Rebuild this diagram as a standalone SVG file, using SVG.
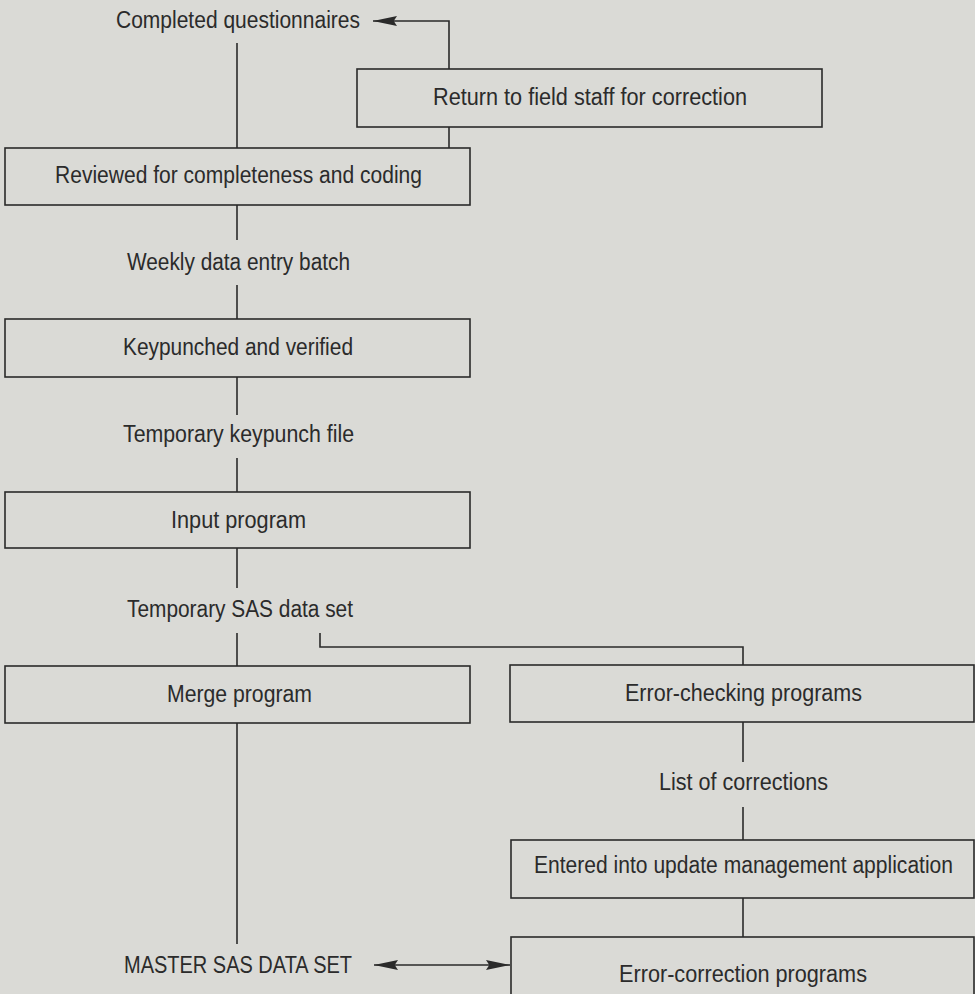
<svg xmlns="http://www.w3.org/2000/svg" width="975" height="994" viewBox="0 0 975 994">
<style>
  .bg { fill: #dadad6; }
  .box rect { fill: none; stroke: #2a2a2a; stroke-width: 1.6; }
  text { font-family: "Liberation Sans", Arial, sans-serif; font-size: 23.5px; fill: #2b2b2b; }
  .conn path { fill: none; stroke: #2a2a2a; stroke-width: 1.6; }
</style>
<defs>
  <marker id="ah" markerUnits="userSpaceOnUse" markerWidth="24" markerHeight="10" refX="22" refY="4.5" orient="auto-start-reverse" viewBox="0 0 22 9">
    <path d="M0,0 L22,4.5 L0,9 L3,4.5 z" fill="#2a2a2a"/>
  </marker>
</defs>
<rect class="bg" x="0" y="0" width="975" height="994"/>

<g id="connectors" class="conn">
  <path d="M237,43 V148"/>
  <path d="M449,127 V148"/>
  <path d="M449,69 V21 H373" marker-end="url(#ah)"/>
  <path d="M237,205 V240"/>
  <path d="M237,285 V319"/>
  <path d="M237,377 V415"/>
  <path d="M237,458 V492"/>
  <path d="M237,548 V588"/>
  <path d="M237,633 V666"/>
  <path d="M320,633 V647 H743 V665"/>
  <path d="M237,723 V944"/>
  <path d="M743,722 V762"/>
  <path d="M743,807 V840"/>
  <path d="M743,898 V937"/>
  <path d="M374,965 H510" marker-start="url(#ah)" marker-end="url(#ah)"/>
</g>

<g id="completed-questionnaires">
  <text x="116" y="28" textLength="244" lengthAdjust="spacingAndGlyphs">Completed questionnaires</text>
</g>
<g id="return-to-field" class="box">
  <rect x="357" y="69" width="465" height="58"/>
  <text x="433" y="105" textLength="314" lengthAdjust="spacingAndGlyphs">Return to field staff for correction</text>
</g>
<g id="reviewed" class="box">
  <rect x="5" y="148" width="465" height="57"/>
  <text x="55" y="183" textLength="367" lengthAdjust="spacingAndGlyphs">Reviewed for completeness and coding</text>
</g>
<g id="weekly-batch">
  <text x="127" y="270" textLength="223" lengthAdjust="spacingAndGlyphs">Weekly data entry batch</text>
</g>
<g id="keypunched" class="box">
  <rect x="5" y="319" width="465" height="58"/>
  <text x="123" y="355" textLength="230" lengthAdjust="spacingAndGlyphs">Keypunched and verified</text>
</g>
<g id="temp-keypunch-file">
  <text x="123" y="442" textLength="231" lengthAdjust="spacingAndGlyphs">Temporary keypunch file</text>
</g>
<g id="input-program" class="box">
  <rect x="5" y="492" width="465" height="56"/>
  <text x="171" y="528" textLength="135" lengthAdjust="spacingAndGlyphs">Input program</text>
</g>
<g id="temp-sas-data-set">
  <text x="127" y="617" textLength="226" lengthAdjust="spacingAndGlyphs">Temporary SAS data set</text>
</g>
<g id="merge-program" class="box">
  <rect x="5" y="666" width="465" height="57"/>
  <text x="167" y="702" textLength="145" lengthAdjust="spacingAndGlyphs">Merge program</text>
</g>
<g id="error-checking" class="box">
  <rect x="510" y="665" width="464" height="57"/>
  <text x="625" y="701" textLength="237" lengthAdjust="spacingAndGlyphs">Error-checking programs</text>
</g>
<g id="list-of-corrections">
  <text x="659" y="790" textLength="169" lengthAdjust="spacingAndGlyphs">List of corrections</text>
</g>
<g id="entered-update" class="box">
  <rect x="511" y="840" width="463" height="58"/>
  <text transform="translate(534,873) scale(0.85,1)" x="0" y="0" textLength="493" lengthAdjust="spacingAndGlyphs">Entered into update management application</text>
</g>
<g id="error-correction" class="box">
  <rect x="511" y="937" width="463" height="70"/>
  <text x="619" y="982" textLength="248" lengthAdjust="spacingAndGlyphs">Error-correction programs</text>
</g>
<g id="master-sas">
  <text x="124" y="973" textLength="228" lengthAdjust="spacingAndGlyphs">MASTER SAS DATA SET</text>
</g>
</svg>
